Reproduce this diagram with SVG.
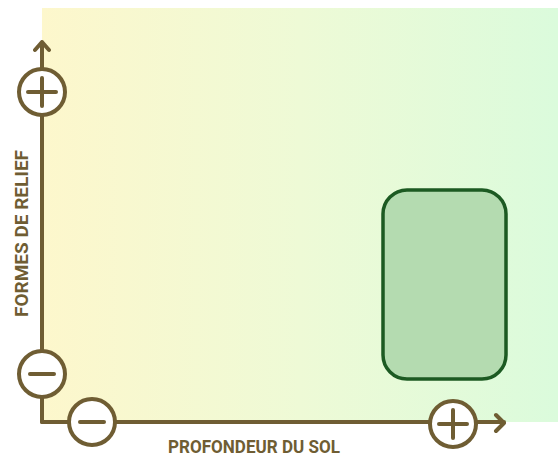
<svg xmlns="http://www.w3.org/2000/svg" width="558" height="459" viewBox="0 0 558 459">
<defs>
<linearGradient id="bg" x1="0" y1="0" x2="1" y2="0">
<stop offset="0" stop-color="#fdf7cc"/>
<stop offset="0.5" stop-color="#eefad6"/>
<stop offset="1" stop-color="#dbfbdc"/>
</linearGradient>
<style>
.ax{stroke:#6f5d33;stroke-width:4;fill:none;stroke-linecap:round;stroke-linejoin:round}
.sg{fill:#ffffff;stroke:#6f5d33;stroke-width:4}
.sym{stroke:#6f5d33;stroke-width:4;stroke-linecap:round}
.lbl{font-family:Roboto,"Liberation Sans",sans-serif;font-weight:bold;font-size:19px;fill:#6f5d33}
</style>
</defs>
<rect x="42" y="8" width="516" height="414" fill="url(#bg)"/>
<g id="connectors">
<path class="ax" d="M42 422 V42 M35 50 L42 42 L49 50"/>
<path class="ax" d="M42 422 H504 M496 415 L504 423 L496 431"/>
</g>
<g id="region">
<rect x="383" y="190" width="123" height="189" rx="24" fill="#b4dbb0" stroke="#1c5a22" stroke-width="3.5"/>
</g>
<g id="y-plus">
<circle class="sg" cx="42" cy="92" r="23"/>
<path class="sym" d="M28 92 H56 M42 78 V106"/>
</g>
<g id="y-minus">
<circle class="sg" cx="42" cy="374" r="23"/>
<path class="sym" d="M30 374 H54"/>
</g>
<g id="x-minus">
<circle class="sg" cx="92" cy="422" r="23"/>
<path class="sym" d="M80 422 H104"/>
</g>
<g id="x-plus">
<circle class="sg" cx="453" cy="424" r="23"/>
<path class="sym" d="M439 424 H467 M453 410 V438"/>
</g>
<g id="labels">
<text class="lbl" x="168" y="453" textLength="172" lengthAdjust="spacingAndGlyphs">PROFONDEUR DU SOL</text>
<text class="lbl" transform="translate(28 317) rotate(-90)" x="0" y="0" textLength="167" lengthAdjust="spacingAndGlyphs">FORMES DE RELIEF</text>
</g>
</svg>
